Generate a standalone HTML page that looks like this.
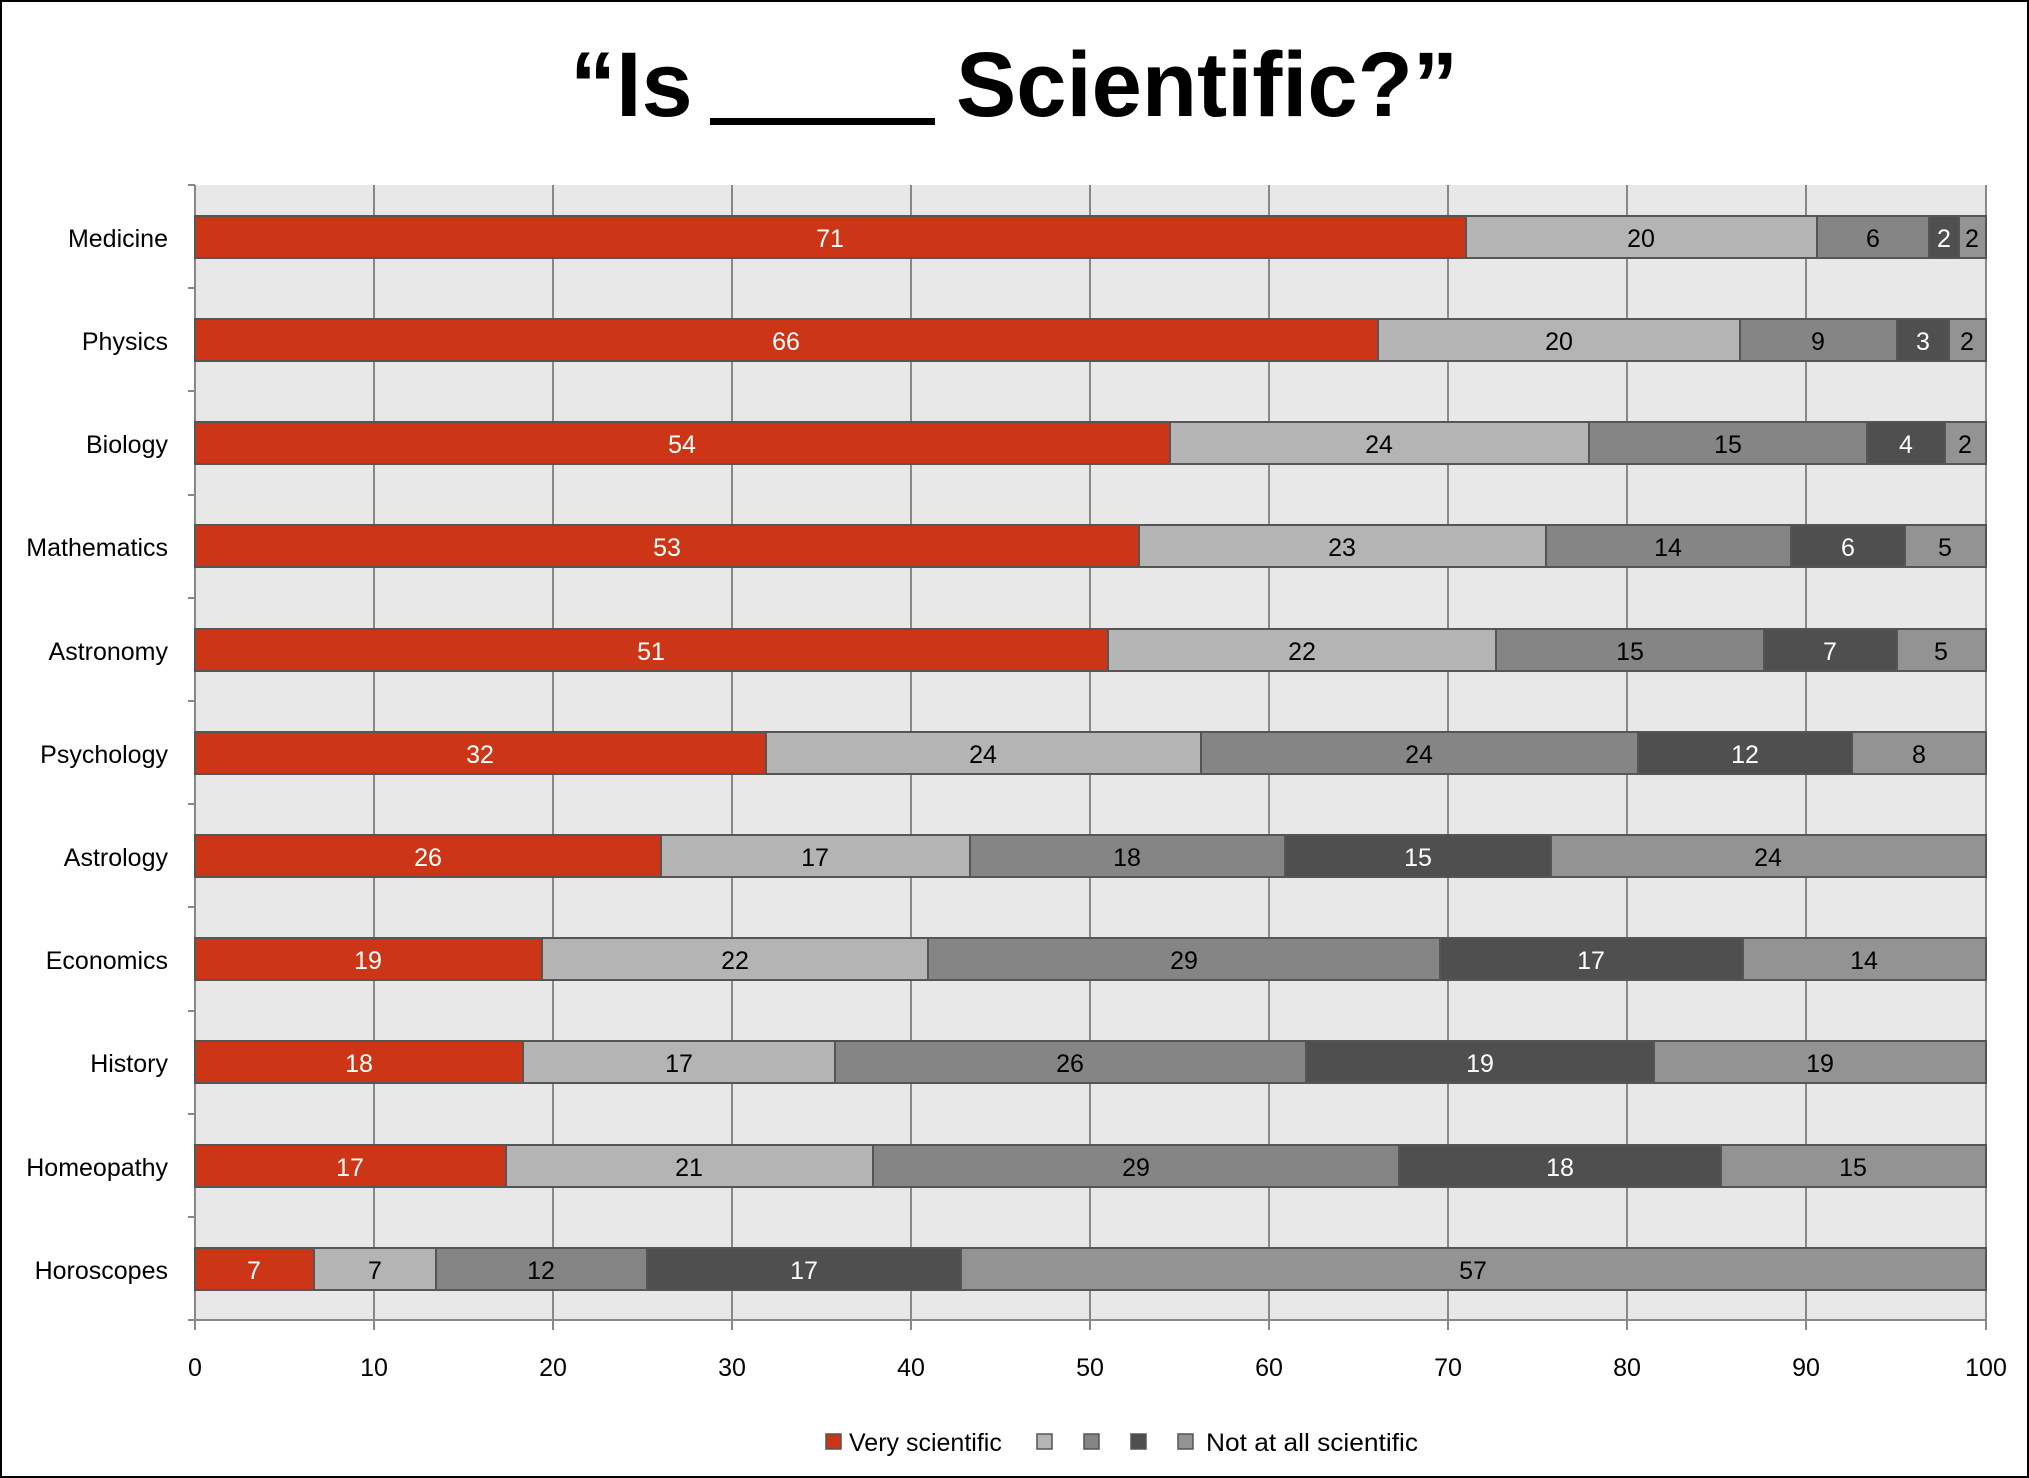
<!DOCTYPE html>
<html><head><meta charset="utf-8"><style>
html,body{margin:0;padding:0;background:#fff}
svg{display:block}
text{font-family:"Liberation Sans",sans-serif}
</style></head><body>
<svg width="2029" height="1478" viewBox="0 0 2029 1478" xmlns="http://www.w3.org/2000/svg">
<rect x="1" y="1" width="2027" height="1476" fill="#fff" stroke="#000" stroke-width="2"/>
<text x="570" y="116" font-size="92" font-weight="bold" text-anchor="start">“Is</text>
<rect x="710" y="118" width="225" height="7" fill="#000"/>
<text x="956" y="116" font-size="92" font-weight="bold" text-anchor="start" textLength="502" lengthAdjust="spacingAndGlyphs">Scientific?”</text>
<rect x="195" y="185" width="1791" height="1135" fill="#e8e8e8"/>
<g stroke="#888" stroke-width="2">
<line x1="374" y1="185" x2="374" y2="1330"/><line x1="553" y1="185" x2="553" y2="1330"/><line x1="732" y1="185" x2="732" y2="1330"/><line x1="911" y1="185" x2="911" y2="1330"/><line x1="1090" y1="185" x2="1090" y2="1330"/><line x1="1269" y1="185" x2="1269" y2="1330"/><line x1="1448" y1="185" x2="1448" y2="1330"/><line x1="1627" y1="185" x2="1627" y2="1330"/><line x1="1806" y1="185" x2="1806" y2="1330"/><line x1="1986" y1="185" x2="1986" y2="1330"/>
<line x1="195" y1="185" x2="195" y2="1330"/>
<line x1="195" y1="1320" x2="1986" y2="1320"/>
<line x1="188" y1="185" x2="195" y2="185"/><line x1="188" y1="288" x2="195" y2="288"/><line x1="188" y1="391" x2="195" y2="391"/><line x1="188" y1="495" x2="195" y2="495"/><line x1="188" y1="598" x2="195" y2="598"/><line x1="188" y1="701" x2="195" y2="701"/><line x1="188" y1="804" x2="195" y2="804"/><line x1="188" y1="907" x2="195" y2="907"/><line x1="188" y1="1011" x2="195" y2="1011"/><line x1="188" y1="1114" x2="195" y2="1114"/><line x1="188" y1="1217" x2="195" y2="1217"/><line x1="188" y1="1320" x2="195" y2="1320"/>
</g>
<g stroke="#555" stroke-width="2">
<rect x="195" y="216" width="1271" height="42" fill="#cc3617"/><rect x="1466" y="216" width="351" height="42" fill="#b4b4b4"/><rect x="1817" y="216" width="112" height="42" fill="#858585"/><rect x="1929" y="216" width="30" height="42" fill="#4f4f4f"/><rect x="1959" y="216" width="27" height="42" fill="#939393"/>
<rect x="195" y="319" width="1183" height="42" fill="#cc3617"/><rect x="1378" y="319" width="362" height="42" fill="#b4b4b4"/><rect x="1740" y="319" width="157" height="42" fill="#858585"/><rect x="1897" y="319" width="52" height="42" fill="#4f4f4f"/><rect x="1949" y="319" width="37" height="42" fill="#939393"/>
<rect x="195" y="422" width="975" height="42" fill="#cc3617"/><rect x="1170" y="422" width="419" height="42" fill="#b4b4b4"/><rect x="1589" y="422" width="278" height="42" fill="#858585"/><rect x="1867" y="422" width="78" height="42" fill="#4f4f4f"/><rect x="1945" y="422" width="41" height="42" fill="#939393"/>
<rect x="195" y="525" width="944" height="42" fill="#cc3617"/><rect x="1139" y="525" width="407" height="42" fill="#b4b4b4"/><rect x="1546" y="525" width="245" height="42" fill="#858585"/><rect x="1791" y="525" width="114" height="42" fill="#4f4f4f"/><rect x="1905" y="525" width="81" height="42" fill="#939393"/>
<rect x="195" y="629" width="913" height="42" fill="#cc3617"/><rect x="1108" y="629" width="388" height="42" fill="#b4b4b4"/><rect x="1496" y="629" width="268" height="42" fill="#858585"/><rect x="1764" y="629" width="133" height="42" fill="#4f4f4f"/><rect x="1897" y="629" width="89" height="42" fill="#939393"/>
<rect x="195" y="732" width="571" height="42" fill="#cc3617"/><rect x="766" y="732" width="435" height="42" fill="#b4b4b4"/><rect x="1201" y="732" width="437" height="42" fill="#858585"/><rect x="1638" y="732" width="214" height="42" fill="#4f4f4f"/><rect x="1852" y="732" width="134" height="42" fill="#939393"/>
<rect x="195" y="835" width="466" height="42" fill="#cc3617"/><rect x="661" y="835" width="309" height="42" fill="#b4b4b4"/><rect x="970" y="835" width="315" height="42" fill="#858585"/><rect x="1285" y="835" width="266" height="42" fill="#4f4f4f"/><rect x="1551" y="835" width="435" height="42" fill="#939393"/>
<rect x="195" y="938" width="347" height="42" fill="#cc3617"/><rect x="542" y="938" width="386" height="42" fill="#b4b4b4"/><rect x="928" y="938" width="512" height="42" fill="#858585"/><rect x="1440" y="938" width="303" height="42" fill="#4f4f4f"/><rect x="1743" y="938" width="243" height="42" fill="#939393"/>
<rect x="195" y="1041" width="328" height="42" fill="#cc3617"/><rect x="523" y="1041" width="312" height="42" fill="#b4b4b4"/><rect x="835" y="1041" width="471" height="42" fill="#858585"/><rect x="1306" y="1041" width="348" height="42" fill="#4f4f4f"/><rect x="1654" y="1041" width="332" height="42" fill="#939393"/>
<rect x="195" y="1145" width="311" height="42" fill="#cc3617"/><rect x="506" y="1145" width="367" height="42" fill="#b4b4b4"/><rect x="873" y="1145" width="526" height="42" fill="#858585"/><rect x="1399" y="1145" width="322" height="42" fill="#4f4f4f"/><rect x="1721" y="1145" width="265" height="42" fill="#939393"/>
<rect x="195" y="1248" width="119" height="42" fill="#cc3617"/><rect x="314" y="1248" width="122" height="42" fill="#b4b4b4"/><rect x="436" y="1248" width="211" height="42" fill="#858585"/><rect x="647" y="1248" width="314" height="42" fill="#4f4f4f"/><rect x="961" y="1248" width="1025" height="42" fill="#939393"/>
</g>
<g font-size="25" text-anchor="middle" transform="translate(0,1)">
<g fill="#fff">
<text x="830" y="246">71</text><text x="1944" y="246">2</text>
<text x="786" y="349">66</text><text x="1923" y="349">3</text>
<text x="682" y="452">54</text><text x="1906" y="452">4</text>
<text x="667" y="555">53</text><text x="1848" y="555">6</text>
<text x="651" y="659">51</text><text x="1830" y="659">7</text>
<text x="480" y="762">32</text><text x="1745" y="762">12</text>
<text x="428" y="865">26</text><text x="1418" y="865">15</text>
<text x="368" y="968">19</text><text x="1591" y="968">17</text>
<text x="359" y="1071">18</text><text x="1480" y="1071">19</text>
<text x="350" y="1175">17</text><text x="1560" y="1175">18</text>
<text x="254" y="1278">7</text><text x="804" y="1278">17</text>
</g>
<g fill="#000">
<text x="1641" y="246">20</text><text x="1873" y="246">6</text><text x="1972" y="246">2</text>
<text x="1559" y="349">20</text><text x="1818" y="349">9</text><text x="1967" y="349">2</text>
<text x="1379" y="452">24</text><text x="1728" y="452">15</text><text x="1965" y="452">2</text>
<text x="1342" y="555">23</text><text x="1668" y="555">14</text><text x="1945" y="555">5</text>
<text x="1302" y="659">22</text><text x="1630" y="659">15</text><text x="1941" y="659">5</text>
<text x="983" y="762">24</text><text x="1419" y="762">24</text><text x="1919" y="762">8</text>
<text x="815" y="865">17</text><text x="1127" y="865">18</text><text x="1768" y="865">24</text>
<text x="735" y="968">22</text><text x="1184" y="968">29</text><text x="1864" y="968">14</text>
<text x="679" y="1071">17</text><text x="1070" y="1071">26</text><text x="1820" y="1071">19</text>
<text x="689" y="1175">21</text><text x="1136" y="1175">29</text><text x="1853" y="1175">15</text>
<text x="375" y="1278">7</text><text x="541" y="1278">12</text><text x="1473" y="1278">57</text>
</g>
</g>
<g font-size="25" text-anchor="end" fill="#000">
<text x="168" y="247">Medicine</text><text x="168" y="350">Physics</text><text x="168" y="453">Biology</text><text x="168" y="556">Mathematics</text><text x="168" y="660">Astronomy</text><text x="168" y="763">Psychology</text><text x="168" y="866">Astrology</text><text x="168" y="969">Economics</text><text x="168" y="1072">History</text><text x="168" y="1176">Homeopathy</text><text x="168" y="1279">Horoscopes</text>
</g>
<g font-size="25" text-anchor="middle" fill="#000">
<text x="195" y="1376">0</text><text x="374" y="1376">10</text><text x="553" y="1376">20</text><text x="732" y="1376">30</text><text x="911" y="1376">40</text><text x="1090" y="1376">50</text><text x="1269" y="1376">60</text><text x="1448" y="1376">70</text><text x="1627" y="1376">80</text><text x="1806" y="1376">90</text><text x="1986" y="1376">100</text>
</g>
<g stroke="#555" stroke-width="1.5">
<rect x="826" y="1434" width="15" height="15" fill="#cc3617"/>
<rect x="1037" y="1434" width="15" height="15" fill="#b4b4b4"/>
<rect x="1084" y="1434" width="15" height="15" fill="#858585"/>
<rect x="1131" y="1434" width="15" height="15" fill="#4f4f4f"/>
<rect x="1178" y="1434" width="15" height="15" fill="#939393"/>
</g>
<g font-size="25" fill="#000">
<text x="849" y="1451">Very scientific</text>
<text x="1206" y="1451" textLength="212" lengthAdjust="spacingAndGlyphs">Not at all scientific</text>
</g>
</svg>
</body></html>
